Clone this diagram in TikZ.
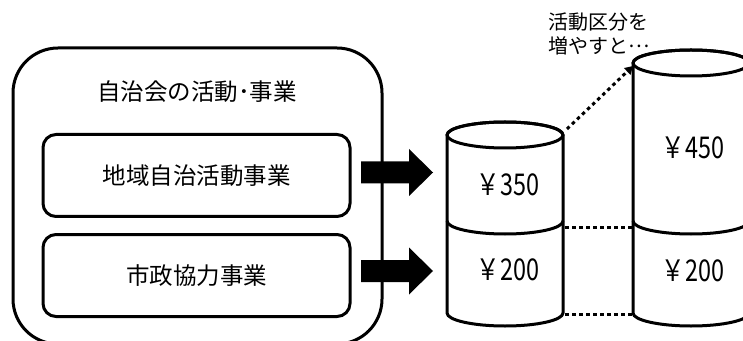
\documentclass[tikz,border=0pt]{standalone}
\usepackage{fontspec}
\newfontfamily\cjk{Noto Sans CJK JP}
\usetikzlibrary{arrows.meta}
\tikzset{
  box/.style={draw, line width=3pt, rounded corners=#1, inner sep=0pt},
  lbl/.style={font=\cjk\fontsize{23.5}{26}\selectfont, inner sep=0pt},
  yen/.style={font=\cjk\fontsize{30}{32}\selectfont, inner sep=0pt},
  cyl/.style={line width=3pt, line join=round},
  dots/.style={line width=3pt, dash pattern=on 3.5pt off 3.5pt},
  blockarrow/.style={fill=black},
}
\newcommand{\yentext}[1]{\scalebox{0.78}[1]{￥#1}}
\begin{document}
\begin{tikzpicture}[x=1pt,y=1pt]
\useasboundingbox (0,0) rectangle (743,340);
\clip (0,0) rectangle (743,340);
\fill[white] (0,0) rectangle (743,340);
% left group
\node[box=45pt, minimum width=369pt, minimum height=296pt] (outer) at (197.5,144) {};
\node[lbl] (title) at (197,248) {自治会の活動･事業};
\node[box=13pt, minimum width=307pt, minimum height=82pt] (b1) at (196.5,164.5) {};
\node[lbl] (t1) at (b1.center) {地域自治活動事業};
\node[box=13pt, minimum width=307pt, minimum height=82pt] (b2) at (196.5,64.5) {};
\node[lbl] (t2) at (b2.center) {市政協力事業};
% block arrows
\fill[blockarrow] (361,156.5) -- (409,156.5) -- (409,144) -- (433,167.5) -- (409,191) -- (409,178.5) -- (361,178.5) -- cycle;
\fill[blockarrow] (361,58) -- (409,58) -- (409,45.5) -- (433,69) -- (409,92.5) -- (409,80) -- (361,80) -- cycle;
% left cylinder
\coordinate (L1) at (447,205); \coordinate (R1) at (563,205);
\coordinate (L1m) at (447,119); \coordinate (R1m) at (563,119);
\coordinate (L1b) at (447,27); \coordinate (R1b) at (563,27);
\filldraw[cyl, fill=white] (L1) -- (L1b) arc[start angle=180, end angle=360, x radius=58, y radius=13] -- (R1) arc[start angle=0, end angle=180, x radius=58, y radius=13] -- cycle;
\draw[cyl] (505,205) ellipse[x radius=58, y radius=13];
\draw[cyl] (L1m) arc[start angle=180, end angle=360, x radius=58, y radius=13];
% right cylinder
\coordinate (L2) at (633,277); \coordinate (R2) at (749,277);
\coordinate (L2m) at (633,119); \coordinate (R2m) at (749,119);
\coordinate (L2b) at (633,27); \coordinate (R2b) at (749,27);
\filldraw[cyl, fill=white] (L2) -- (L2b) arc[start angle=180, end angle=360, x radius=58, y radius=13] -- (R2) arc[start angle=0, end angle=180, x radius=58, y radius=13] -- cycle;
\draw[cyl] (691,277) ellipse[x radius=58, y radius=13];
\draw[cyl] (L2m) arc[start angle=180, end angle=360, x radius=58, y radius=13];
% labels
\node[yen] (v350) at (508,155) {\yentext{350}};
\node[yen] (v200a) at (508,70) {\yentext{200}};
\node[yen] (v450) at (693,192) {\yentext{450}};
\node[yen] (v200b) at (693,69) {\yentext{200}};
% dotted connectors
\coordinate (d1a) at (565,113); \coordinate (d1b) at (632,113);
\coordinate (d2a) at (565,26); \coordinate (d2b) at (632,26);
\draw[dots] (d1a) -- (d1b);
\draw[dots] (d2a) -- (d2b);
\coordinate (da) at (567,211); \coordinate (db) at (633,274);
\draw[dots, -{Triangle[length=8pt,width=9pt]}] (da) -- (db);
\node[font=\cjk\fontsize{20}{24}\selectfont, align=left, anchor=west, inner sep=0pt] (note) at (548,306) {活動区分を\\増やすと\raisebox{0.3em}{…}};
\end{tikzpicture}
\end{document}
